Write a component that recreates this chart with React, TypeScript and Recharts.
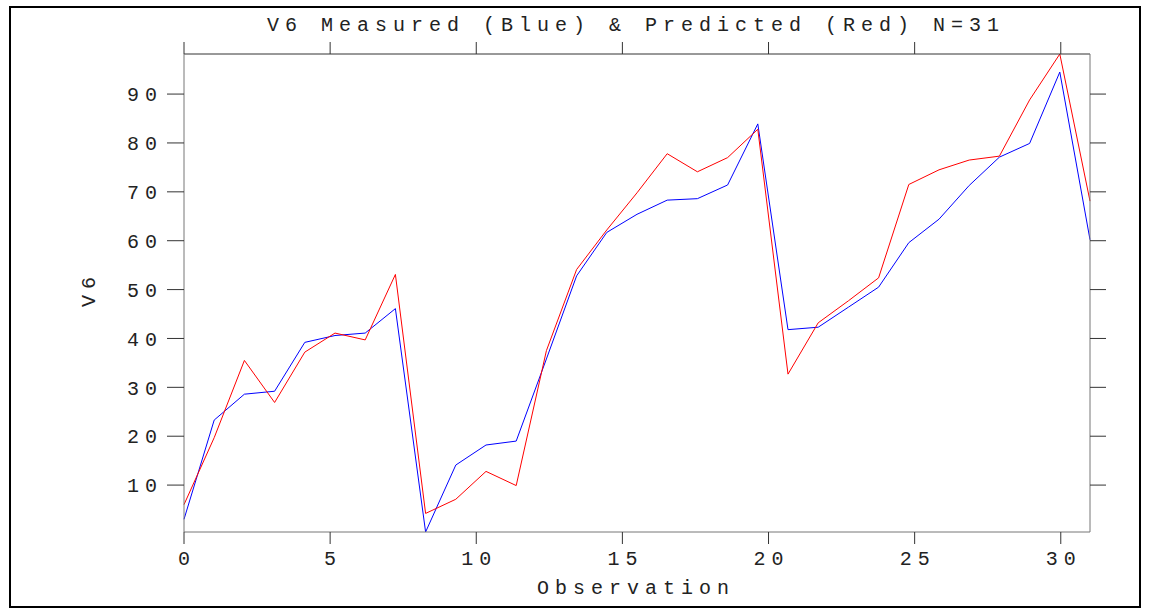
import { LineChart, Line, XAxis, YAxis } from 'recharts';

const measured = [
  3.0, 23.3, 28.6, 29.2, 39.2, 40.6, 41.1, 46.1, 0.4, 14.1, 18.2, 19.0, 35.8, 52.8, 61.7, 65.4,
  68.3, 68.6, 71.4, 83.9, 41.8, 42.3, 46.4, 50.5, 59.6, 64.4, 71.3, 77.1, 79.9, 94.5, 60.2,
];
const predicted = [
  6.0, 19.7, 35.5, 26.9, 37.2, 41.1, 39.7, 53.1, 4.2, 7.1, 12.8, 9.9, 37.5, 54.1, 62.2, 69.8,
  77.8, 74.1, 77.0, 82.8, 32.7, 43.2, 47.7, 52.4, 71.5, 74.5, 76.5, 77.3, 88.8, 98.2, 68.1,
];
const xTicks = [0, 5, 10, 15, 20, 25, 30];
const yTicks = [10, 20, 30, 40, 50, 60, 70, 80, 90];

const xMax = 31;
// the 31 observations are spread evenly over the whole 0..31 axis
const data = measured.map((m, i) => ({
  obs: (i * xMax) / (measured.length - 1),
  measured: m,
  predicted: predicted[i],
}));
const yMin = Math.min(...measured, ...predicted);
const yMax = Math.max(...measured, ...predicted);

const FONT = 'Liberation Mono';
const FS = 20;
const LS = 6;
const INK = '#222';
const TICK = '#333';

// tick marks are drawn here together with their labels
const BottomTick = ({ x, y, payload }: any) => (
  <g>
    <line x1={x} x2={x} y1={y - 19} y2={y - 7} stroke={TICK} />
    <text x={x + LS / 2} y={y} dy="0.71em" textAnchor="middle" fill={INK}
      fontFamily={FONT} fontSize={FS} letterSpacing={LS}>
      {payload.value}
    </text>
  </g>
);

const TopTick = ({ x, y }: any) => (
  <line x1={x} x2={x} y1={y} y2={y + 12} stroke={TICK} />
);

const LeftTick = ({ x, y, payload }: any) => (
  <g>
    <line x1={x + 10} x2={x + 27} y1={y} y2={y} stroke={TICK} />
    <text x={x + LS} y={y} dy="0.36em" textAnchor="end" fill={INK}
      fontFamily={FONT} fontSize={FS} letterSpacing={LS}>
      {payload.value}
    </text>
  </g>
);

const RightTick = ({ x, y }: any) => (
  <line x1={x - 16} x2={x} y1={y} y2={y} stroke={TICK} />
);

export default function App() {
  return (
    <div style={{ position: 'absolute', left: 0, top: 0, width: 1149, height: 609, background: '#fff' }}>
      <LineChart
        width={1149}
        height={609}
        data={data}
        margin={{ top: 34, right: 39, bottom: 37, left: 84 }}
      >
        <XAxis
          dataKey="obs"
          type="number"
          domain={[0, xMax]}
          ticks={xTicks}
          height={40}
          tickSize={12}
          tickMargin={7}
          axisLine={{ stroke: '#777' }}
          tickLine={false}
          tick={<BottomTick />}
        />
        <XAxis
          xAxisId="top"
          orientation="top"
          dataKey="obs"
          type="number"
          domain={[0, xMax]}
          ticks={xTicks}
          height={20}
          tickSize={12}
          tickMargin={0}
          axisLine={{ stroke: '#333' }}
          tickLine={false}
          tick={<TopTick />}
        />
        <YAxis
          type="number"
          domain={[yMin, yMax]}
          ticks={yTicks}
          width={100}
          tickSize={17}
          tickMargin={10}
          allowDataOverflow
          axisLine={{ stroke: '#777' }}
          tickLine={false}
          tick={<LeftTick />}
        />
        <YAxis
          yAxisId="right"
          orientation="right"
          type="number"
          domain={[yMin, yMax]}
          ticks={yTicks}
          width={20}
          tickSize={16}
          tickMargin={0}
          allowDataOverflow
          axisLine={{ stroke: '#777' }}
          tickLine={false}
          tick={<RightTick />}
        />
        <Line
          dataKey="measured"
          type="linear"
          stroke="#0000ff"
          strokeWidth={1}
          dot={false}
          isAnimationActive={false}
        />
        <Line
          dataKey="predicted"
          type="linear"
          stroke="#ff0000"
          strokeWidth={1}
          dot={false}
          isAnimationActive={false}
        />
      </LineChart>
      <svg
        width={1149}
        height={609}
        style={{ position: 'absolute', left: 0, top: 0, pointerEvents: 'none' }}
      >
        <rect x={10} y={7} width={1130} height={600} fill="none" stroke="#000" strokeWidth={2} />
        <text x={633 + LS / 2} y={31} textAnchor="middle" fill={INK}
          fontFamily={FONT} fontSize={FS} letterSpacing={LS}>
          V6 Measured (Blue) &amp; Predicted (Red) N=31
        </text>
        <text x={633 + LS / 2} y={594} textAnchor="middle" fill={INK}
          fontFamily={FONT} fontSize={FS} letterSpacing={LS}>
          Observation
        </text>
        <text x={0} y={0} textAnchor="middle" fill={INK}
          fontFamily={FONT} fontSize={FS} letterSpacing={LS}
          transform={`translate(95, ${292 - LS / 2}) rotate(-90)`}>
          V6
        </text>
      </svg>
    </div>
  );
}
